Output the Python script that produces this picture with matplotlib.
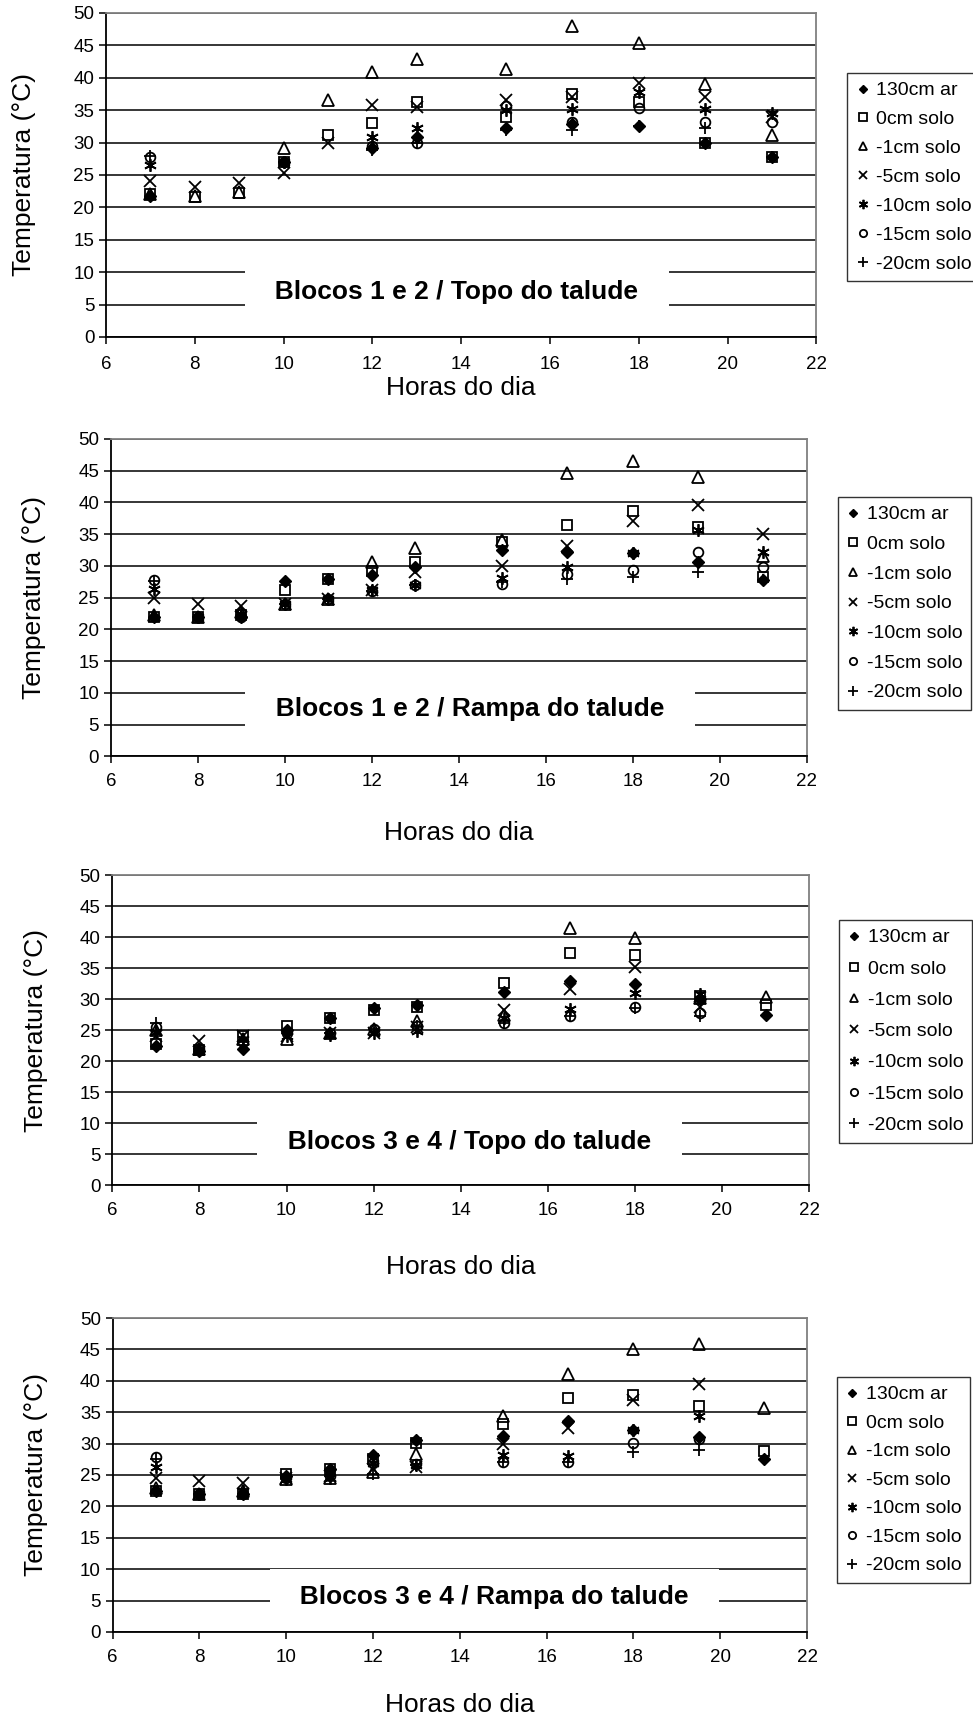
import numpy as np
import matplotlib.pyplot as plt

plt.rcParams['font.family'] = ['Liberation Sans', 'DejaVu Sans']

nan = np.nan

# horas de medicao
horas = [7, 8, 9, 10, 11, 12, 13, 15, 16.5, 18, 19.5, 21]
series = ['130cm ar', '0cm solo', '-1cm solo', '-5cm solo',
          '-10cm solo', '-15cm solo', '-20cm solo']

# Blocos 1 e 2 / Topo do talude
b12_topo_ar = [21.7, nan, nan, 27.0, nan, 29.2, 30.9, 32.3, 32.8, 32.6, 30.0, 27.7]
b12_topo_0 = [22.0, 21.6, 22.2, 27.0, 31.2, 33.0, 36.3, 34.0, 37.5, 36.3, 30.0, 27.7]
b12_topo_1 = [22.0, 21.8, 22.3, 29.2, 36.5, 40.9, 42.9, 41.4, 48.0, 45.4, 39.0, 31.2]
b12_topo_5 = [24.0, 23.2, 23.7, 25.3, 29.9, 35.8, 35.5, 36.6, 37.1, 39.2, 37.0, 34.0]
b12_topo_10 = [26.5, nan, nan, 27.0, nan, 30.9, 32.2, 35.0, 35.1, 37.8, 35.1, 34.5]
b12_topo_15 = [27.8, nan, nan, 27.0, nan, 29.5, 30.0, 35.6, 33.1, 35.3, 33.2, 33.1]
b12_topo_20 = [28.0, nan, nan, 27.0, nan, 28.9, 30.0, 32.0, 32.0, 32.6, 32.2, 27.7]

# Blocos 1 e 2 / Rampa do talude
b12_rampa_ar = [22.0, 22.0, 22.0, 27.7, 28.0, 28.5, 29.9, 32.5, 32.2, 32.0, 30.7, 27.8]
b12_rampa_0 = [22.0, 22.0, 22.2, 26.2, 28.0, 29.2, 30.7, 33.7, 36.5, 38.7, 36.2, 28.2]
b12_rampa_1 = [22.3, 22.0, 22.8, 24.0, 24.8, 30.7, 32.9, 34.1, 44.6, 46.6, 44.0, 31.5]
b12_rampa_5 = [25.0, 24.0, 23.7, 24.0, 24.8, 26.2, 29.0, 30.0, 33.1, 37.0, 39.6, 35.0]
b12_rampa_10 = [26.3, 22.0, 22.5, 24.0, 24.8, 26.2, 27.0, 28.1, 29.9, 32.1, 35.7, 32.2]
b12_rampa_15 = [27.8, 22.0, 22.0, 24.0, 24.8, 26.0, 27.0, 27.2, 28.7, 29.3, 32.2, 29.9]
b12_rampa_20 = [27.6, 22.0, 22.0, 24.0, 24.8, 26.0, 27.0, 27.5, 28.0, 28.2, 29.1, 27.8]

# Blocos 3 e 4 / Topo do talude
b34_topo_ar = [22.4, 21.7, 21.9, 25.0, 26.9, 28.5, 29.1, 31.1, 33.0, 32.5, 30.0, 27.4]
b34_topo_0 = [22.8, 21.8, 24.0, 25.6, 26.9, 28.2, 28.8, 32.6, 37.5, 37.1, 30.5, 29.1]
b34_topo_1 = [25.0, 22.0, 23.5, 23.5, 24.5, 25.2, 26.5, 27.4, 41.4, 39.9, 30.2, 30.3]
b34_topo_5 = [24.0, 23.3, 24.0, 24.0, 24.5, 24.5, 25.5, 28.2, 31.6, 35.1, 28.8, nan]
b34_topo_10 = [24.7, 22.0, 23.5, 24.0, 24.2, 24.5, 24.9, 27.0, 28.4, 31.0, 30.9, nan]
b34_topo_15 = [25.5, 22.0, 23.0, 24.5, 24.5, 25.1, 25.7, 26.1, 27.3, 28.7, 27.7, nan]
b34_topo_20 = [26.1, 22.0, 23.0, 24.5, 24.5, 25.1, 25.7, 26.1, 27.3, 28.5, 27.2, nan]

# Blocos 3 e 4 / Rampa do talude
b34_rampa_ar = [22.5, 22.0, 22.0, 24.8, 26.0, 28.2, 30.6, 31.2, 33.6, 32.1, 31.0, 27.6]
b34_rampa_0 = [22.5, 22.0, 22.0, 25.2, 26.0, 27.6, 30.1, 33.1, 37.2, 37.8, 36.0, 28.8]
b34_rampa_1 = [23.0, 22.0, 22.5, 24.3, 24.5, 25.5, 28.4, 34.4, 41.1, 45.0, 45.9, 35.7]
b34_rampa_5 = [24.5, 24.0, 23.8, 24.5, 24.8, 26.0, 26.3, 30.0, 32.5, 37.0, 39.5, nan]
b34_rampa_10 = [26.2, 22.0, 22.5, 24.3, 24.5, 26.9, 26.6, 28.2, 28.0, 32.2, 34.4, nan]
b34_rampa_15 = [27.8, 22.0, 22.0, 24.5, 24.8, 26.9, 26.8, 27.1, 27.1, 30.1, 30.8, nan]
b34_rampa_20 = [27.5, 22.0, 22.0, 24.5, 24.8, 25.2, 26.6, 27.1, 27.1, 28.7, 29.0, nan]

titulos = ['Blocos 1 e 2 / Topo do talude', 'Blocos 1 e 2 / Rampa do talude',
           'Blocos 3 e 4 / Topo do talude', 'Blocos 3 e 4 / Rampa do talude']

paineis = [
    [b12_topo_ar, b12_topo_0, b12_topo_1, b12_topo_5,
     b12_topo_10, b12_topo_15, b12_topo_20],
    [b12_rampa_ar, b12_rampa_0, b12_rampa_1, b12_rampa_5,
     b12_rampa_10, b12_rampa_15, b12_rampa_20],
    [b34_topo_ar, b34_topo_0, b34_topo_1, b34_topo_5,
     b34_topo_10, b34_topo_15, b34_topo_20],
    [b34_rampa_ar, b34_rampa_0, b34_rampa_1, b34_rampa_5,
     b34_rampa_10, b34_rampa_15, b34_rampa_20],
]

# estilo dos marcadores (como no Excel)
estilos = [
    dict(marker='D', ms=6, mfc='black', mec='black'),
    dict(marker='s', ms=7, mfc='none', mec='black', mew=1.3),
    dict(marker='^', ms=8, mfc='none', mec='black', mew=1.3),
    dict(marker='x', ms=8, mec='black', mew=1.3),
    dict(marker=(6, 2, 0), ms=9, mec='black', mew=1.3),
    dict(marker='o', ms=7, mfc='none', mec='black', mew=1.3),
    dict(marker='+', ms=9, mec='black', mew=1.3),
]

# posicao dos eixos [esq, base, larg, alt] em fracao da figura
pos_eixos = [
    [0.109, 0.8043, 0.730, 0.1882],
    [0.114, 0.5607, 0.715, 0.1844],
    [0.1155, 0.3118, 0.716, 0.1800],
    [0.1157, 0.0523, 0.7137, 0.1823],
]
pos_legenda = [(0.8705, 0.9576), (0.861, 0.7114), (0.862, 0.4657), (0.860, 0.2003)]
esp_legenda = [0.58, 0.62, 0.70, 0.56]
pos_titulo = [(13.9, 6.9), (14.25, 7.4), (14.2, 6.9), (14.8, 5.6)]
pad_ticks = [9, 7, 7, 7]
pad_xlabel = [2, 22, 26, 20]
pad_ylabel = [27, 23, 23, 23]

fig = plt.figure(figsize=(9.73, 17.22), dpi=100)

for i, dados in enumerate(paineis):
    ax = fig.add_axes(pos_eixos[i])
    ax.set_xlim(6, 22)
    ax.set_ylim(0, 50)
    ax.set_xticks(range(6, 23, 2))
    ax.set_yticks(range(0, 51, 5))
    ax.set_axisbelow(True)
    ax.yaxis.grid(True, color='black', lw=1.1)
    for lado in ['top', 'right']:
        ax.spines[lado].set_color('#808080')
        ax.spines[lado].set_linewidth(1.3)
    for lado in ['left', 'bottom']:
        ax.spines[lado].set_color('black')
        ax.spines[lado].set_linewidth(1.3)
    ax.tick_params(direction='out', length=5, width=1.1, labelsize=13.5)
    ax.tick_params(axis='x', pad=pad_ticks[i])

    for nome, valores, est in zip(series, dados, estilos):
        ax.plot(horas, valores, ls='none', label=nome, zorder=4, **est)

    tx, ty = pos_titulo[i]
    ax.text(tx, ty, '  ' + titulos[i] + '  ', ha='center', va='center',
            fontsize=19, fontweight='bold', zorder=3,
            bbox=dict(boxstyle='square,pad=0.6', fc='white', ec='none'))

    ax.set_xlabel('Horas do dia', fontsize=19, labelpad=pad_xlabel[i])
    ax.set_ylabel('Temperatura (°C)', fontsize=19, labelpad=pad_ylabel[i])

    leg = ax.legend(loc='upper left', bbox_to_anchor=pos_legenda[i],
                    bbox_transform=fig.transFigure, borderaxespad=0,
                    fontsize=14, frameon=True, fancybox=False,
                    edgecolor='black', handlelength=0.7,
                    handletextpad=0.35, borderpad=0.45,
                    labelspacing=esp_legenda[i], markerscale=0.75)
    leg.get_frame().set_linewidth(1.0)

fig.savefig('out.png', dpi=100)
plt.close(fig)
